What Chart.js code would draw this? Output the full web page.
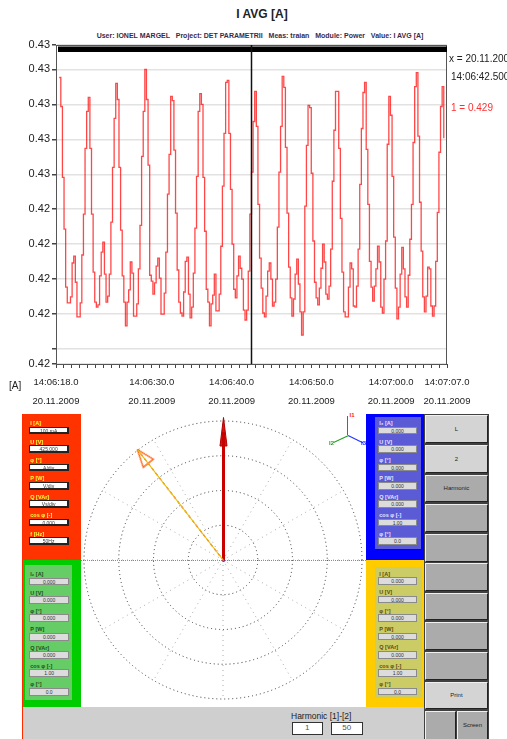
<!DOCTYPE html>
<html><head><meta charset="utf-8">
<script src="https://cdn.jsdelivr.net/npm/chart.js@4.4.1/dist/chart.umd.min.js"></script>
<style>
html,body{margin:0;padding:0;background:#fff;}
body{width:507px;height:739px;position:relative;overflow:hidden;font-family:Arial,"Liberation Sans",sans-serif;}
.abs{position:absolute;}
canvas{position:absolute;}
</style></head><body>
<div class="abs" style="left:162px;top:7px;width:200px;text-align:center;font-weight:bold;font-size:12px;color:#222;line-height:14px;">I AVG [A]</div>
<div class="abs" style="left:60px;top:31.5px;width:400px;text-align:center;font-size:7px;font-weight:bold;color:#3a2a4a;white-space:pre;line-height:8px;">User: IONEL MARGEL   Project: DET PARAMETRII   Meas: traian   Module: Power   Value: I AVG [A]</div>
<canvas id="c1" width="507" height="405" style="left:0;top:0"></canvas>
<div class="abs" style="left:449px;top:53px;font-size:10px;line-height:12px;color:#222;white-space:nowrap;">x = 20.11.2009</div>
<div class="abs" style="left:451px;top:71px;font-size:10px;line-height:12px;color:#222;white-space:nowrap;">14:06:42.500</div>
<div class="abs" style="left:451px;top:102px;font-size:10px;line-height:12px;color:#ff3030;white-space:nowrap;">1 = 0.429</div>
<div class="abs" style="left:9px;top:380px;font-size:10px;line-height:12px;color:#222;">[A]</div>
<div id="lower"></div>
<script>
// ---------- data: top chart ----------
const sampleInterval = 0.2025;      // s between samples
const firstSampleOffset = 0.4;      // s after 14:06:18.0
const currentValues = [
0.42827,0.42744,0.42541,0.42393,0.42227,0.42182,0.42182,0.42199,0.42296,0.42316,
0.42241,0.42142,0.42142,0.42182,0.42319,0.42436,0.42624,0.42730,0.42770,0.42624,
0.42436,0.42270,0.42184,0.42170,0.42176,0.42259,0.42327,0.42356,0.42264,0.42184,
0.42201,0.42264,0.42413,0.42570,0.42710,0.42810,0.42764,0.42570,0.42390,0.42259,
0.42184,0.42116,0.42184,0.42219,0.42299,0.42267,0.42144,0.42144,0.42179,0.42279,
0.42404,0.42601,0.42730,0.42850,0.42764,0.42576,0.42261,0.42244,0.42207,0.42239,
0.42287,
0.42310,0.42253,0.42150,0.42150,0.42210,0.42327,0.42493,0.42607,0.42773,0.42761,
0.42619,0.42439,0.42276,0.42184,0.42153,0.42144,0.42213,0.42301,0.42313,0.42207,
0.42139,0.42170,0.42267,0.42396,0.42544,0.42730,0.42781,0.42750,0.42541,0.42387,
0.42221,0.42184,0.42116,0.42179,0.42204,0.42264,0.42159,0.42159,0.42207,0.42344,
0.42516,0.42667,0.42813,0.42819,0.42667,0.42507,0.42350,0.42221,0.42196,0.42259,
0.42316,0.42281,0.42250,0.42161,0.42133,0.42161,0.42273,0.42436,
0.42556,0.42701,0.42787,0.42687,0.42464,0.42310,0.42224,0.42153,0.42142,0.42201,
0.42273,0.42296,0.42250,0.42173,0.42184,0.42250,0.42399,0.42556,0.42687,0.42830,
0.42799,0.42627,0.42439,0.42284,0.42196,0.42144,0.42193,0.42264,0.42307,0.42236,
0.42156,0.42090,0.42156,0.42459,0.42633,0.42747,0.42741,0.42553,0.42359,0.42241,
0.42196,0.42176,0.42224,0.42281,0.42350,0.42299,0.42207,0.42193,0.42230,0.42336,
0.42530,0.42676,0.42787,0.42787,0.42624,0.42424,0.42270,0.42156,0.42142,0.42142,
0.42227,0.42296,
0.42279,0.42173,0.42170,0.42230,0.42336,0.42521,0.42681,0.42784,0.42813,0.42621,
0.42464,0.42301,0.42227,0.42187,0.42230,0.42279,0.42344,0.42299,0.42170,0.42153,
0.42250,0.42359,0.42636,0.42773,0.42719,0.42544,0.42370,0.42224,0.42136,0.42170,
0.42264,0.42341,0.42279,0.42199,0.42170,0.42261,0.42364,0.42464,0.42641,0.42801,
0.42841,0.42659,0.42470,0.42330,0.42199,0.42156,0.42201,0.42284,0.42279,0.42173,
0.42144,0.42173,0.42301,0.42441,0.42613,0.42744,0.42801,0.42653
];
const xTickValues = [0, 12, 22, 32, 42, 49];   // seconds after 14:06:18.0
const xTickLabels = [
  ['14:06:18.0','20.11.2009'], ['14:06:30.0','20.11.2009'], ['14:06:40.0','20.11.2009'],
  ['14:06:50.0','20.11.2009'], ['14:07:00.0','20.11.2009'], ['14:07:07.0','20.11.2009']
];
const yTickValues = [0.42007,0.4205,0.4215,0.4225,0.4235,0.4245,0.4255,0.4265,0.4275,0.4285,0.4292];
const yTickLabels = ['0.42','','0.42','0.42','0.42','0.42','0.43','0.43','0.43','0.43','0.43'];
const cursorTime = 24.5;  // 14:06:42.500

// ---------- data: phasor diagram ----------
const phasorMagnitudes = [4.17, 4.14];
const phasorAnglesDeg = [0, -38.6];  // clockwise from 12 o'clock

Chart.defaults.font.family = 'Arial, "Liberation Sans", sans-serif';

const framePlugin = {
  id:'frame',
  afterDatasetsDraw(chart){
    const {ctx, chartArea:a, scales} = chart;
    ctx.save();
    ctx.strokeStyle = '#555'; ctx.lineWidth = 1;
    ctx.strokeRect(a.left + 0.5, a.top + 0.5, a.right - a.left - 1, a.bottom - a.top);
    ctx.fillStyle = '#000';
    ctx.fillRect(a.left + 2, a.top + 1.5, a.right - a.left - 2, 5.5);
    const cx = scales.x.getPixelForValue(cursorTime);
    ctx.strokeStyle = '#111'; ctx.lineWidth = 1.5;
    ctx.beginPath(); ctx.moveTo(cx, a.top); ctx.lineTo(cx, a.bottom); ctx.stroke();
    ctx.restore();
  }
};

new Chart(document.getElementById('c1'), {
  type:'line',
  data:{datasets:[{
    data: currentValues.map((v,i)=>({x: firstSampleOffset + i*sampleInterval, y: v})),
    stepped:true, borderColor:'rgba(255,0,0,0.72)', borderWidth:1.3, pointRadius:0, fill:false
  }]},
  options:{
    responsive:false, animation:false, devicePixelRatio:1,
    layout:{padding:{left:0, top:45, right:60, bottom:0}},
    plugins:{legend:{display:false}, tooltip:{enabled:false}, title:{display:false}},
    scales:{
      x:{type:'linear', min:0, max:49,
        afterBuildTicks:(s)=>{ const t=[]; for(let k=0;k<=49;k++) t.push({value:k}); s.ticks=t; },
        afterFit:(s)=>{ s.height = 41; },
        grid:{drawOnChartArea:false, drawTicks:true, tickLength:4, color:'#444'},
        border:{color:'#444', width:1},
        ticks:{autoSkip:false, maxRotation:0, minRotation:0, padding:5, color:'#222',
          font:{size:9.5, lineHeight:2.0},
          callback:(v)=>{ const k = xTickValues.indexOf(v); return k>=0 ? xTickLabels[k] : ''; }}
      },
      y:{type:'linear', min:yTickValues[0], max:yTickValues[yTickValues.length-1],
        afterBuildTicks:(s)=>{ s.ticks = yTickValues.map(v=>({value:v})); },
        afterFit:(s)=>{ s.width = 56; },
        grid:{color:'#e2e2e2', lineWidth:1.5, tickColor:'#444', tickLength:4, drawTicks:true},
        border:{color:'#444', width:1},
        ticks:{autoSkip:false, padding:2, color:'#222', font:{size:11},
          callback:(v,i)=> yTickLabels[i]}
      }
    }
  },
  plugins:[framePlugin]
});

// ---------- lower screen (panels) ----------
const root = document.getElementById('lower');
function addDiv(style, text){
  const d = document.createElement('div');
  d.style.cssText = 'position:absolute;box-sizing:border-box;' + style;
  if (text != null) d.textContent = text;
  root.appendChild(d); return d;
}
const redLabels   = ['I [A]','U [V]','φ [°]','P [W]','Q [VAr]','cos φ [-]','f [Hz]'];
const redValues   = ['100 mA','425.000','A/div','V/div','Vs/div','0.000','50Hz'];
const greenLabels = ['I₂ [A]','U [V]','φ [°]','P [W]','Q [VAr]','cos φ [-]','φ [°]'];
const greenValues = ['0.000','0.000','0.000','0.000','0.000','1.00','0.0'];
const blueLabels  = ['I₃ [A]','U [V]','φ [°]','P [W]','Q [VAr]','cos φ [-]','φ [°]'];
const blueValues  = ['0.000','0.000','0.000','0.000','0.000','1.00','0.0'];
const yellowLabels= ['I [A]','U [V]','φ [°]','P [W]','Q [VAr]','cos φ [-]','φ [°]'];
const yellowValues= ['0.000','0.000','0.000','0.000','0.000','1.00','0.0'];

function fields(left, firstTop, step, w, labels, values, labelColor, boxCss){
  labels.forEach((lab,i)=>{
    const t = firstTop + i*step;
    addDiv(`left:${left+1}px;top:${t-6.5}px;font-size:5.5px;line-height:6px;color:${labelColor};white-space:nowrap;font-weight:bold;`, lab);
    addDiv(`left:${left}px;top:${t}px;width:${w}px;height:7.8px;${boxCss}font-size:5px;line-height:6px;text-align:center;color:#333;white-space:nowrap;overflow:hidden;`, values[i]);
  });
}
// red
addDiv('left:22px;top:414px;width:59px;height:146px;background:#ff3300;');
fields(29.3, 426.7, 18.4, 39.7, redLabels, redValues, '#ffff40', 'background:#fff;border:1px solid #222;border-right-width:2px;border-bottom-width:2px;');
// green
addDiv('left:22px;top:560px;width:59px;height:147px;background:#00cc00;');
addDiv('left:25px;top:565px;width:47px;height:135px;background:#66cc66;');
fields(29.3, 577.7, 18.35, 39.7, greenLabels, greenValues, '#1d4f1d', 'background:#dcdcdc;border:1px solid #8a8a8a;');
// blue
addDiv('left:366px;top:414px;width:58px;height:146px;background:#0000ff;');
addDiv('left:375px;top:417px;width:46px;height:132px;background:#5b5bd6;');
fields(378.3, 426.7, 18.4, 38.4, blueLabels, blueValues, '#e6e6ff', 'background:#dcdcdc;border:1px solid #8a8a8a;');
// yellow
addDiv('left:366px;top:560px;width:58px;height:147px;background:#ffcc00;');
addDiv('left:375px;top:566.7px;width:46.7px;height:131.6px;background:#cccc66;');
fields(378.3, 577.3, 18.4, 38.4, yellowLabels, yellowValues, '#5a4a10', 'background:#dcdcdc;border:1px solid #8a8a8a;');
// left red edge
addDiv('left:22px;top:414px;width:1px;height:325px;background:#ff2a00;');
// bottom bar
addDiv('left:23px;top:707px;width:401px;height:32px;background:#cfcfcf;');
addDiv('left:291px;top:710.5px;font-size:8.5px;line-height:10px;color:#222;white-space:nowrap;', 'Harmonic [1]-[2]');
addDiv('left:291.7px;top:722.3px;width:31px;height:12.7px;background:#fff;border:1px solid #333;font-size:8px;line-height:10.5px;text-align:center;color:#555;', '1');
addDiv('left:330.7px;top:722.3px;width:32px;height:12.7px;background:#fff;border:1px solid #333;font-size:8px;line-height:10.5px;text-align:center;color:#555;', '50');
// buttons
addDiv('left:424px;top:414px;width:65px;height:325px;background:#404040;');
const buttons = [
  [415,28.3,'#d4d4d4','L'],[445,28.3,'#d4d4d4','2'],[475,27.3,'#ababab','Harmonic'],
  [504,27.7,'#ababab',''],[534,27.7,'#ababab',''],[563.3,27.4,'#ababab',''],
  [592.7,27.3,'#ababab',''],[622.3,27.7,'#ababab',''],[651.7,28.3,'#ababab',''],
  [682.3,26.7,'#d4d4d4','Print']
];
buttons.forEach(b=>{
  addDiv(`left:424.5px;top:${b[0]}px;width:63.8px;height:${b[1]}px;background:${b[2]};border-top:1px solid #f0f0f0;border-left:1px solid #f0f0f0;border-bottom:1px solid #222;border-right:1px solid #222;font-size:6px;line-height:${b[1]-2}px;text-align:center;color:#222;`, b[3]);
});
addDiv('left:424.5px;top:711px;width:31.2px;height:28px;background:#ababab;border-top:1px solid #f0f0f0;border-left:1px solid #f0f0f0;border-right:1px solid #222;');
addDiv('left:456.7px;top:711px;width:31.6px;height:28px;background:#ababab;border-top:1px solid #f0f0f0;border-left:1px solid #f0f0f0;border-right:1px solid #222;font-size:6px;line-height:26px;text-align:center;color:#222;', 'Screen');
// horizontal dotted axis through diagram
addDiv('left:81px;top:560px;width:285px;height:1px;border-top:1px dotted #888;');
// small axis icon
addDiv('left:347.2px;top:416px;width:1.3px;height:19px;background:#ff2020;');
addDiv('left:347.7px;top:435px;width:15.9px;height:1.3px;background:#20a020;transform-origin:0 50%;transform:rotate(155deg);');
addDiv('left:347.7px;top:435px;width:16.7px;height:1.3px;background:#2030ff;transform-origin:0 50%;transform:rotate(26deg);');
addDiv('left:349.5px;top:411.5px;font-size:6px;line-height:7px;color:#ff2020;font-weight:bold;', 'I1');
addDiv('left:329px;top:440px;font-size:6px;line-height:7px;color:#20a020;font-weight:bold;', 'I2');
addDiv('left:361px;top:440px;font-size:6px;line-height:7px;color:#2030ff;font-weight:bold;', 'I3');

// ---------- phasor grid (radar) ----------
function mkCanvas(id){
  const c = document.createElement('canvas');
  c.id = id; c.width = 285; c.height = 293;
  c.style.cssText = 'left:81px;top:414px;width:285px;height:293px;';
  document.body.appendChild(c); return c;
}
const spokeLabels = ['','','','','','','','','','','',''];
new Chart(mkCanvas('c2'), {
  type:'radar',
  data:{labels: spokeLabels, datasets:[{data:[], pointRadius:0, borderWidth:0}]},
  options:{responsive:false, animation:false, devicePixelRatio:1,
    layout:{padding:3},
    plugins:{legend:{display:false}, tooltip:{enabled:false}},
    scales:{r:{min:0, max:4,
      ticks:{display:false, stepSize:1},
      grid:{circular:true, color:'#333', lineWidth:1},
      border:{dash:[1,3]},
      angleLines:{display:true, color:'#aaa', lineWidth:1, borderDash:[1,4]},
      pointLabels:{display:false}
    }}
  }
});

// ---------- phasors (scatter overlay) ----------
function headImage(w, h, filled, color, color2){
  const c = document.createElement('canvas'); c.width = w; c.height = h;
  const g = c.getContext('2d');
  g.beginPath(); g.moveTo(w/2, 0.5); g.lineTo(1, h-1); g.lineTo(w-1, h-1); g.closePath();
  if (filled){ g.fillStyle = color; g.fill(); g.strokeStyle = color2; g.lineWidth = 1; g.stroke(); }
  else { g.strokeStyle = color; g.lineWidth = 1.3; g.stroke(); }
  return c;
}
const redHead = headImage(9, 30, true, '#e01010', '#b00000');
const orangeHead = headImage(15, 19, false, '#ff6010');
const unitPx = 139 / 4;
function polar(mag, deg){ const r = deg*Math.PI/180; return {x: mag*Math.sin(r), y: mag*Math.cos(r)}; }
const tipRed = polar(phasorMagnitudes[0], phasorAnglesDeg[0]);
const tipOr  = polar(phasorMagnitudes[1], phasorAnglesDeg[1]);
const headRed = polar(phasorMagnitudes[0] - 15/unitPx, phasorAnglesDeg[0]);
const headOr  = polar(phasorMagnitudes[1] - 9.5/unitPx, phasorAnglesDeg[1]);
new Chart(mkCanvas('c3'), {
  type:'scatter',
  data:{datasets:[
    {data:[{x:0,y:0}, tipOr], showLine:true, borderColor:'#e8c010', borderWidth:1.2, pointRadius:0, clip:false},
    {data:[{x:0,y:0}, tipOr], showLine:true, borderColor:'#ff3000', borderWidth:1.2, borderDash:[3,3], pointRadius:0, clip:false},
    {data:[headOr], pointStyle:orangeHead, rotation:phasorAnglesDeg[1], pointRadius:8, clip:false},
    {data:[{x:0,y:0}, headRed], showLine:true, borderColor:'#c80000', borderWidth:3, pointRadius:0, clip:false},
    {data:[headRed], pointStyle:redHead, rotation:phasorAnglesDeg[0], pointRadius:8, clip:false},
    {data:[{x:0,y:0}], pointRadius:1.5, pointBackgroundColor:'#3040ff', pointBorderWidth:0, clip:false}
  ]},
  options:{responsive:false, animation:false, devicePixelRatio:1,
    layout:{padding:{left:3, right:4, top:7, bottom:8}},
    plugins:{legend:{display:false}, tooltip:{enabled:false}},
    scales:{x:{type:'linear', min:-4, max:4, display:false}, y:{type:'linear', min:-4, max:4, display:false}}
  }
});
</script>
</body></html>
